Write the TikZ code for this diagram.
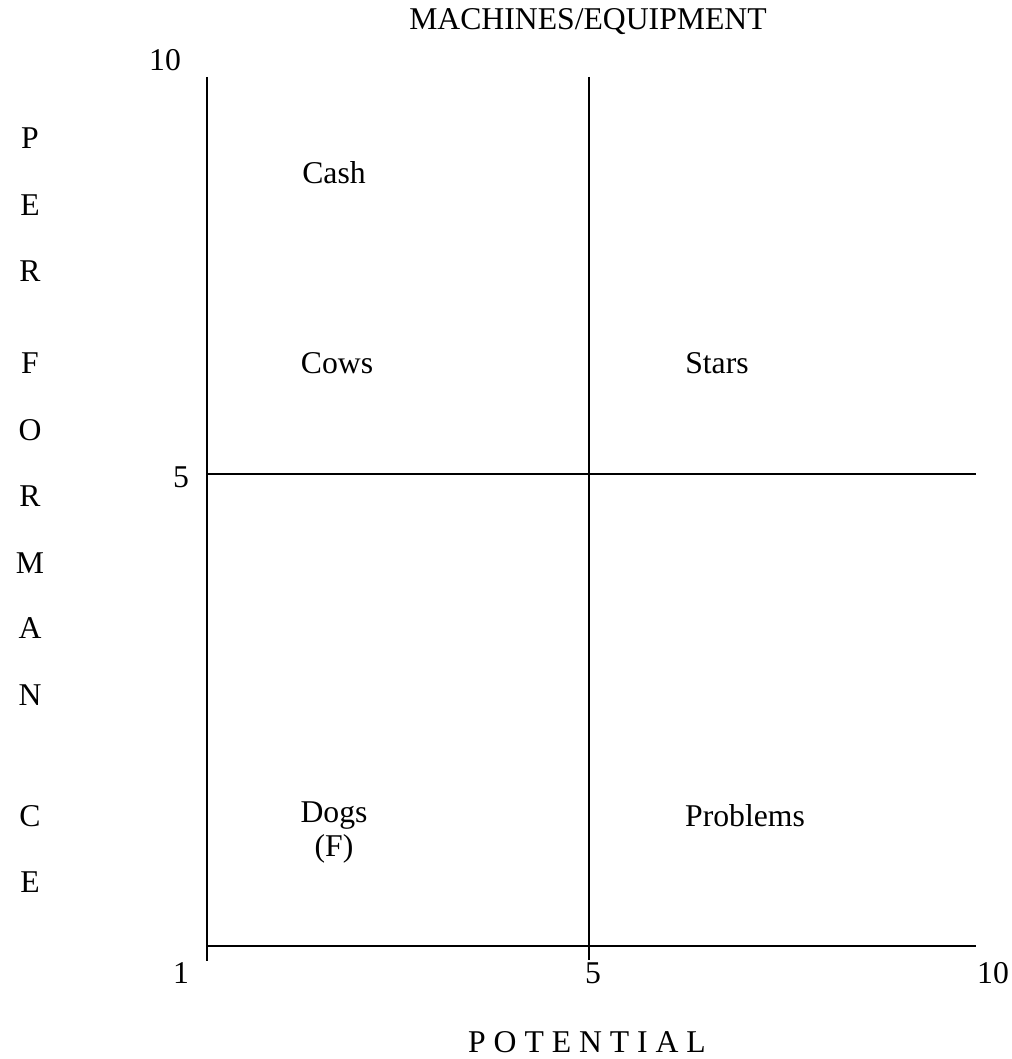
\documentclass[tikz,border=0pt]{standalone}
\usepackage{fontspec}
\setmainfont{Liberation Serif}
\begin{document}
\begin{tikzpicture}[x=1pt,y=-1pt,
  lbl/.style={inner sep=0pt,font=\fontsize{31.7}{36}\selectfont},
  axis/.style={line width=2pt,black}]
\useasboundingbox (0,0) rectangle (1011,1059);
% grid coordinates
\coordinate (lt) at (207,77);
\coordinate (lb) at (207,961);
\coordinate (mt) at (589,77);
\coordinate (mb) at (589,960);
\coordinate (hl) at (207,474);
\coordinate (hr) at (976,474);
\coordinate (bl) at (207,946);
\coordinate (br) at (976,946);
\draw[axis] (lt) -- (lb);
\draw[axis] (mt) -- (mb);
\draw[axis] (hl) -- (hr);
\draw[axis] (bl) -- (br);
% title and axis labels
\node[lbl] (title) at (588,22) {MACHINES/EQUIPMENT};
\node[lbl] (pot) at (587,1042) {P O T E N T I A L};
\node[lbl] (y10) at (165,60) {10};
\node[lbl] (y5) at (181,477) {5};
\node[lbl] (y1) at (181,973) {1};
\node[lbl] (x5) at (593,973) {5};
\node[lbl] (x10) at (993,973) {10};
% vertical PERFORMANCE
\node[lbl] (p1) at (30,138) {P};
\node[lbl] (p2) at (30,205) {E};
\node[lbl] (p3) at (30,271) {R};
\node[lbl] (p4) at (30,363) {F};
\node[lbl] (p5) at (30,430) {O};
\node[lbl] (p6) at (30,496) {R};
\node[lbl] (p7) at (30,563) {M};
\node[lbl] (p8) at (30,628) {A};
\node[lbl] (p9) at (30,695) {N};
\node[lbl] (p10) at (30,816) {C};
\node[lbl] (p11) at (30,882) {E};
% quadrant labels
\node[lbl] (cash) at (334,173) {Cash};
\node[lbl] (cows) at (337,363) {Cows};
\node[lbl] (stars) at (717,363) {Stars};
\node[lbl] (dogs) at (334,816) {Dogs};
\node[lbl] (f) at (334,849) {(F)};
\node[lbl] (prob) at (745,816) {Problems};
\end{tikzpicture}
\end{document}
